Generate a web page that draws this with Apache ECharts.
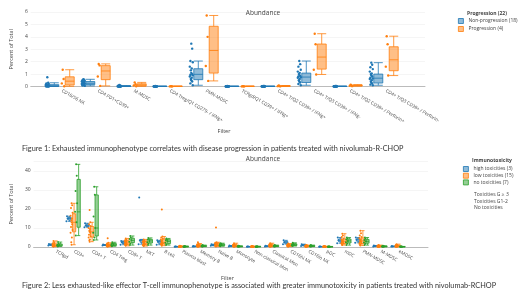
<!DOCTYPE html>
<html>
<head>
<meta charset="utf-8">
<script src="https://cdn.jsdelivr.net/npm/echarts@6/dist/echarts.min.js"></script>
<style>
  html, body { margin: 0; padding: 0; background: #fff; }
  #chart { width: 520px; height: 292px; }
</style>
</head>
<body>
<div id="chart"></div>
<script>
// figure 1: progression
const cats1 = ['CD16/56 NK', 'CD4 PD1+CD39+', 'M-MDSC', 'CD4 Treg/Q1 CD279- / IFNg+', 'PMN-MDSC',
    'TCRgd/Q1 CD39+ / IFNg+', 'CD4+ T/Q2 CD39+ / IFNg+', 'CD4+ T/Q3 CD39+ / IFNg-',
    'CD4+ T/Q2 CD39+ / Perforin+', 'CD4+ T/Q3 CD39+ / Perforin-'];
// [min, Q1, median, Q3, max]
const nonProgBox = [
    [0, 0.02, 0.06, 0.15, 0.3], [0.05, 0.15, 0.26, 0.4, 0.58], [0, 0.01, 0.02, 0.04, 0.08],
    [0, 0.005, 0.01, 0.02, 0.04], [0.1, 0.55, 0.98, 1.43, 2.05], [0, 0.005, 0.01, 0.02, 0.04],
    [0, 0.005, 0.01, 0.02, 0.04], [0.1, 0.32, 0.76, 1.08, 2.05], [0, 0.005, 0.01, 0.02, 0.04],
    [0.1, 0.28, 0.67, 1.0, 1.92]
];
const progBox = [
    [0.02, 0.12, 0.43, 0.78, 1.35], [0.05, 0.55, 1.25, 1.68, 1.82], [0.02, 0.05, 0.13, 0.22, 0.33],
    [0.01, 0.01, 0.015, 0.025, 0.03], [0.45, 1.08, 2.9, 4.85, 5.72], [0.01, 0.01, 0.015, 0.025, 0.03],
    [0.01, 0.02, 0.04, 0.06, 0.08], [0.97, 1.4, 2.37, 3.42, 4.25], [0.03, 0.05, 0.08, 0.12, 0.15],
    [0.88, 1.27, 2.15, 3.2, 4.05]
];
const nonProgPts = [
    [0.75, 0.3, 0.25, 0.2, 0.15, 0.12, 0.1, 0.08, 0.07, 0.06, 0.05, 0.04, 0.03, 0.02, 0.02, 0.01, 0.01, 0],
    [0.58, 0.55, 0.5, 0.45, 0.4, 0.38, 0.35, 0.3, 0.28, 0.25, 0.22, 0.2, 0.18, 0.15, 0.12, 0.1, 0.08, 0.05],
    [0.12, 0.08, 0.06, 0.05, 0.04, 0.04, 0.03, 0.03, 0.02, 0.02, 0.02, 0.01, 0.01, 0.01, 0.01, 0, 0, 0],
    [0.04, 0.03, 0.03, 0.02, 0.02, 0.02, 0.01, 0.01, 0.01, 0.01, 0.01, 0.01, 0, 0, 0, 0, 0, 0],
    [3.45, 3.05, 2.05, 1.95, 1.6, 1.45, 1.3, 1.1, 1.0, 0.95, 0.9, 0.8, 0.7, 0.6, 0.5, 0.4, 0.25, 0.1],
    [0.04, 0.03, 0.02, 0.02, 0.02, 0.01, 0.01, 0.01, 0.01, 0.01, 0.01, 0, 0, 0, 0, 0, 0, 0],
    [0.05, 0.04, 0.03, 0.02, 0.02, 0.02, 0.01, 0.01, 0.01, 0.01, 0.01, 0.01, 0, 0, 0, 0, 0, 0],
    [2.05, 1.8, 1.6, 1.35, 1.2, 1.1, 1.0, 0.95, 0.85, 0.8, 0.75, 0.7, 0.6, 0.5, 0.4, 0.32, 0.2, 0.1],
    [0.05, 0.04, 0.03, 0.03, 0.02, 0.02, 0.02, 0.01, 0.01, 0.01, 0.01, 0.01, 0, 0, 0, 0, 0, 0],
    [1.92, 1.75, 1.55, 1.4, 1.2, 1.05, 1.0, 0.9, 0.8, 0.7, 0.65, 0.6, 0.5, 0.4, 0.3, 0.25, 0.15, 0.1]
];
const progPts = [
    [1.35, 0.6, 0.25, 0.02], [1.82, 1.7, 0.8, 0.05], [0.33, 0.18, 0.08, 0.02], [0.03, 0.02, 0.01, 0.01],
    [5.72, 4.0, 1.65, 0.45], [0.03, 0.02, 0.01, 0.01], [0.08, 0.05, 0.03, 0.01], [4.25, 3.4, 1.35, 0.97],
    [0.15, 0.1, 0.06, 0.03], [4.05, 3.4, 1.6, 0.88]
];
const yTicks1 = {min: 0, max: 6, interval: 1};

// figure 2: immunotoxicity
const cats2 = ['TCRgd', 'CD3+', 'CD4+ T', 'CD4 Treg', 'CD8+ T', 'NKT', 'B cell', 'Plasma blast',
    'Memory B', 'Naive B', 'Monocyte', 'Non-classical Mon', 'Classical Mon', 'CD16hi NK', 'CD16lo NK',
    'pDC', 'mDC', 'PMN-MDSC', 'M-MDSC', 'eMDSC'];
const highBox = [
    [0.8, 1.0, 1.2, 1.4, 1.6], [13.5, 14.2, 15.0, 15.6, 16.2], [10.4, 10.8, 11.3, 12.0, 12.5],
    [0.8, 0.9, 1.0, 1.15, 1.3], [1.2, 1.85, 2.5, 2.85, 3.2], [1.5, 2.5, 3.5, 3.8, 4.0],
    [1.2, 2.0, 2.8, 3.15, 3.5], [0.1, 0.15, 0.2, 0.25, 0.3], [0.2, 0.25, 0.3, 0.4, 0.5],
    [0.6, 0.8, 1.0, 1.25, 1.5], [0.3, 0.4, 0.5, 0.65, 0.8], [0.1, 0.15, 0.2, 0.25, 0.3],
    [0.3, 0.35, 0.4, 0.5, 0.6], [1.5, 2.0, 2.5, 3.0, 3.5], [0.5, 0.75, 1.0, 1.25, 1.5],
    [0.1, 0.15, 0.2, 0.25, 0.3], [2.0, 2.75, 3.5, 4.25, 5.0], [2.2, 3.0, 3.8, 4.4, 5.0],
    [0.3, 0.4, 0.5, 0.65, 0.8], [0.2, 0.25, 0.3, 0.4, 0.5]
];
const lowBox = [
    [0.2, 0.5, 0.9, 1.5, 3.2], [1.2, 8, 13, 17.5, 23], [2.8, 5.2, 8, 10.8, 13], [0.2, 0.5, 0.9, 1.4, 2.2],
    [0.6, 1.4, 2.2, 3.2, 4.5], [0.5, 1.2, 2.0, 3.0, 4.0], [0.7, 1.6, 2.5, 4.2, 5.5],
    [0.05, 0.12, 0.2, 0.32, 0.6], [0.1, 0.4, 0.7, 1.1, 1.8], [0.2, 0.75, 1.2, 1.9, 2.5],
    [0.1, 0.35, 0.7, 1.05, 2.0], [0.03, 0.1, 0.2, 0.3, 0.5], [0.1, 0.42, 0.7, 1.1, 2.0],
    [0.2, 0.5, 0.8, 1.15, 1.8], [0.1, 0.3, 0.45, 0.65, 1.0], [0.02, 0.08, 0.15, 0.25, 0.4],
    [1.0, 1.9, 3.0, 4.2, 7.0], [0.8, 1.8, 3.2, 4.8, 8.6], [0.05, 0.2, 0.35, 0.6, 1.0],
    [0.1, 0.25, 0.45, 0.75, 1.5]
];
const noBox = [
    [0.3, 0.6, 1.0, 1.6, 2.6], [6, 10.4, 18.5, 35.6, 43.5], [3.7, 5.8, 10, 27.4, 31.7],
    [0.4, 0.75, 1.2, 1.8, 2.5], [1.0, 2.3, 3.5, 4.6, 5.8], [1.0, 2.1, 3.2, 4.0, 4.8],
    [1.0, 1.8, 3.0, 3.8, 4.5], [0.05, 0.12, 0.2, 0.35, 0.5], [0.2, 0.35, 0.5, 0.7, 1.0],
    [0.4, 0.7, 1.1, 1.55, 2.0], [0.1, 0.2, 0.3, 0.45, 0.6], [0.05, 0.12, 0.2, 0.28, 0.4],
    [0.2, 0.35, 0.5, 0.7, 1.0], [0.5, 0.8, 1.2, 1.65, 2.2], [0.2, 0.35, 0.5, 0.7, 1.0],
    [0.05, 0.1, 0.15, 0.22, 0.3], [1.0, 2.1, 3.2, 4.2, 5.0], [1.0, 2.0, 3.0, 4.0, 5.0],
    [0.1, 0.17, 0.3, 0.45, 0.6], [0.05, 0.1, 0.15, 0.22, 0.3]
];
const highPts = [
    [1.6, 1.2, 0.8], [16.2, 15.0, 13.5], [12.5, 11.3, 10.4], [1.3, 1.0, 0.8], [3.2, 2.5, 1.2],
    [26, 3.5, 1.5], [3.5, 2.8, 1.2], [0.3, 0.2, 0.1], [0.5, 0.3, 0.2], [1.5, 1.0, 0.6],
    [0.8, 0.5, 0.3], [0.3, 0.2, 0.1], [0.6, 0.4, 0.3], [3.5, 2.5, 1.5], [1.5, 1.0, 0.5],
    [0.3, 0.2, 0.1], [5.0, 3.5, 2.0], [5.0, 3.8, 2.2], [0.8, 0.5, 0.3], [0.5, 0.3, 0.2]
];
const lowPts = [
    [3.2, 2.5, 2.0, 1.8, 1.5, 1.3, 1.1, 1.0, 0.9, 0.8, 0.6, 0.5, 0.4, 0.3, 0.2],
    [23, 22, 20.5, 18, 16.5, 15, 14, 13, 12, 10.5, 9, 7.5, 5, 2.5, 1.2],
    [19.5, 13, 12, 11, 10, 9.5, 8.5, 8, 7.5, 6.5, 5.5, 5, 4, 3.5, 2.8],
    [4.6, 2.2, 1.8, 1.5, 1.3, 1.1, 1.0, 0.9, 0.8, 0.7, 0.6, 0.5, 0.4, 0.3, 0.2],
    [4.5, 4.0, 3.6, 3.3, 3.0, 2.8, 2.5, 2.2, 2.0, 1.8, 1.5, 1.3, 1.1, 0.9, 0.6],
    [4.0, 3.6, 3.2, 3.0, 2.8, 2.5, 2.2, 2.0, 1.8, 1.5, 1.3, 1.1, 0.9, 0.7, 0.5],
    [19.8, 5.5, 5.0, 4.5, 4.0, 3.5, 3.0, 2.5, 2.2, 2.0, 1.8, 1.5, 1.2, 1.0, 0.7],
    [0.6, 0.5, 0.4, 0.35, 0.3, 0.3, 0.25, 0.2, 0.2, 0.15, 0.15, 0.1, 0.1, 0.05, 0.05],
    [2.5, 1.8, 1.5, 1.2, 1.0, 0.9, 0.8, 0.7, 0.6, 0.5, 0.4, 0.35, 0.3, 0.2, 0.1],
    [10.3, 2.5, 2.2, 2.0, 1.8, 1.6, 1.4, 1.2, 1.0, 0.9, 0.8, 0.7, 0.5, 0.4, 0.2],
    [2.0, 1.6, 1.3, 1.1, 1.0, 0.9, 0.8, 0.7, 0.6, 0.5, 0.4, 0.35, 0.3, 0.2, 0.1],
    [0.5, 0.4, 0.35, 0.3, 0.3, 0.25, 0.2, 0.2, 0.15, 0.15, 0.1, 0.1, 0.08, 0.05, 0.03],
    [2.0, 1.7, 1.4, 1.2, 1.0, 0.9, 0.8, 0.7, 0.6, 0.5, 0.45, 0.4, 0.3, 0.2, 0.1],
    [1.8, 1.5, 1.3, 1.2, 1.1, 1.0, 0.9, 0.8, 0.7, 0.6, 0.6, 0.5, 0.4, 0.3, 0.2],
    [1.0, 0.9, 0.8, 0.7, 0.6, 0.55, 0.5, 0.45, 0.4, 0.35, 0.3, 0.25, 0.2, 0.15, 0.1],
    [0.4, 0.35, 0.3, 0.25, 0.25, 0.2, 0.2, 0.15, 0.15, 0.1, 0.1, 0.08, 0.05, 0.03, 0.02],
    [7.0, 6.0, 5.2, 4.5, 4.0, 3.5, 3.2, 3.0, 2.6, 2.2, 2.0, 1.8, 1.5, 1.2, 1.0],
    [8.6, 7.2, 6.0, 5.2, 4.6, 4.0, 3.6, 3.2, 2.8, 2.4, 2.0, 1.7, 1.4, 1.1, 0.8],
    [1.0, 0.8, 0.7, 0.6, 0.5, 0.45, 0.4, 0.35, 0.3, 0.25, 0.2, 0.2, 0.15, 0.1, 0.05],
    [1.5, 1.2, 1.0, 0.8, 0.7, 0.6, 0.5, 0.45, 0.4, 0.35, 0.3, 0.25, 0.2, 0.15, 0.1]
];
const noPts = [
    [2.6, 1.8, 1.3, 1.0, 0.8, 0.5, 0.3], [43.5, 37.5, 29.5, 23, 18.5, 13, 6], [31.7, 27.5, 16, 10, 7.5, 5, 3.7],
    [2.5, 2.0, 1.6, 1.2, 0.9, 0.6, 0.4], [5.8, 5.0, 4.2, 3.5, 2.8, 1.8, 1.0], [4.8, 4.2, 3.8, 3.2, 2.5, 1.8, 1.0],
    [4.5, 4.0, 3.5, 3.0, 2.2, 1.5, 1.0], [0.5, 0.4, 0.3, 0.2, 0.15, 0.1, 0.05], [1.0, 0.8, 0.6, 0.5, 0.4, 0.3, 0.2],
    [2.0, 1.7, 1.4, 1.1, 0.8, 0.6, 0.4], [0.6, 0.5, 0.4, 0.3, 0.25, 0.2, 0.1], [0.4, 0.3, 0.25, 0.2, 0.15, 0.1, 0.05],
    [1.0, 0.8, 0.6, 0.5, 0.4, 0.3, 0.2], [2.2, 1.8, 1.5, 1.2, 0.9, 0.7, 0.5], [1.0, 0.8, 0.6, 0.5, 0.4, 0.3, 0.2],
    [0.3, 0.25, 0.2, 0.15, 0.1, 0.08, 0.05], [5.0, 4.5, 4.0, 3.2, 2.5, 1.8, 1.0], [5.0, 4.3, 3.7, 3.0, 2.4, 1.7, 1.0],
    [0.6, 0.5, 0.4, 0.3, 0.2, 0.15, 0.1], [0.3, 0.25, 0.2, 0.15, 0.1, 0.08, 0.05]
];
const yTicks2 = {min: 0, max: 45, interval: 10};

const names1 = ['Non-progression (18)', 'Progression (4)'];
const names2 = ['high toxicities (3)', 'low toxicities (15)', 'no toxicities (7)'];
const colors = ['#1f77b4', '#ff7f0e', '#2ca02c'];
const fills = ['rgba(31,119,180,0.5)', 'rgba(255,127,14,0.5)', 'rgba(44,160,44,0.5)'];

const FONT = 'Open Sans';
const TXT = '#444';

// plot areas (outer = gridlines, inner = category band)
const g1 = {outL: 23, outW: 402, inL: 44, inW: 360, top: 12, h: 74.5};
const g2 = {outL: 23, outW: 405, inL: 47, inW: 361, top: 161.5, h: 85.5};

// same side-by-side offsets that echarts uses for boxplot groups
const boxOffsets = (band, n) => {
    let avail = band * 0.8 - 2;
    let gap = avail / n * 0.3;
    let w = (avail - gap * (n - 1)) / n;
    let out = [];
    let b = w / 2 - avail / 2;
    for (let k = 0; k < n; k++) { out.push(b); b += gap + w; }
    return out;
};
const jit = [0, 0.6, -0.6, 1, -1, 0.3, -0.3];

const boxSeries = (name, data, k, xi, yi, bw) => ({
    type: 'boxplot', name, data, xAxisIndex: xi, yAxisIndex: yi,
    boxWidth: [bw, bw],
    itemStyle: {color: fills[k], borderColor: colors[k], borderWidth: 0.8},
    emphasis: {disabled: true}
});

const ptsSeries = (name, pts, k, xi, yi, band, offPx, amp, size) => ({
    type: 'scatter', name, xAxisIndex: xi, yAxisIndex: yi, symbolSize: size,
    itemStyle: {color: colors[k], opacity: 1},
    emphasis: {disabled: true},
    data: pts.flatMap((arr, i) => arr.map((v, j) => [i + (offPx + jit[j % jit.length] * amp) / band, v]))
});

const band1 = g1.inW / cats1.length;
const band2 = g2.inW / cats2.length;
const off1 = boxOffsets(band1, 2);
const off2 = boxOffsets(band2, 3);

const yOuter = (g, t, idx) => ({
    gridIndex: idx, type: 'value', min: t.min, max: t.max, interval: t.interval,
    name: 'Percent of Total', nameLocation: 'middle', nameGap: 14,
    nameTextStyle: {fontFamily: FONT, fontSize: 5.5, color: TXT},
    axisLine: {show: false}, axisTick: {show: false},
    axisLabel: {fontFamily: FONT, fontSize: 5, color: TXT, margin: 3, showMaxLabel: t.max % t.interval === 0},
    splitLine: {lineStyle: {color: '#eee', width: 0.6}}
});
const yInner = (t, idx) => ({gridIndex: idx, type: 'value', min: t.min, max: t.max, show: false});
const xOuter = idx => ({
    gridIndex: idx, type: 'value', min: 0, max: 1,
    axisLine: {show: true, onZero: false, lineStyle: {color: '#bbb', width: 1}},
    axisTick: {show: false}, axisLabel: {show: false}, splitLine: {show: false}
});
const xCat = (cats, idx, gap) => ({
    gridIndex: idx, type: 'category', data: cats,
    name: 'Filter', nameLocation: 'middle', nameGap: gap,
    nameTextStyle: {fontFamily: FONT, fontSize: 5.5, color: TXT},
    axisLine: {show: false}, axisTick: {show: false}, splitLine: {show: false},
    axisLabel: {rotate: -30, interval: 0, fontFamily: FONT, fontSize: 4.6, color: TXT, margin: 4}
});
const xVal = (n, idx) => ({gridIndex: idx, type: 'value', min: -0.5, max: n - 0.5, show: false});

const legendText = {fontFamily: FONT, fontSize: 5, color: TXT, lineHeight: 6};
const legendItems = names => names.map((name, k) => ({
    name, itemStyle: {color: fills[k], borderColor: colors[k], borderWidth: 0.8}
}));

const chart = echarts.init(document.getElementById('chart'), null, {renderer: 'canvas'});
chart.setOption({
    animation: false,
    textStyle: {fontFamily: FONT},
    title: [
        {text: 'Abundance', left: 258, top: 4.5, textAlign: 'center',
            textStyle: {fontFamily: FONT, fontSize: 6.5, fontWeight: 'normal', color: TXT}},
        {text: 'Abundance', left: 258, top: 151, textAlign: 'center',
            textStyle: {fontFamily: FONT, fontSize: 6.5, fontWeight: 'normal', color: TXT}},
        {text: 'Progression (22)', left: 462, top: 6,
            textStyle: {fontFamily: FONT, fontSize: 5, fontWeight: 'bold', color: TXT}},
        {text: 'Immunotoxicity', left: 467, top: 153,
            textStyle: {fontFamily: FONT, fontSize: 5, fontWeight: 'bold', color: TXT}},
        {text: 'Toxicities G \u2265 3\nToxicities G1-2\nNo toxicities', left: 469, top: 186,
            textStyle: {fontFamily: FONT, fontSize: 5, fontWeight: 'normal', color: TXT, lineHeight: 6.8}},
        {text: 'Figure 1: Exhausted immunophenotype correlates with disease progression in patients treated with nivolumab-R-CHOP',
            left: 17, top: 140.5, textStyle: {fontFamily: 'Lato', fontSize: 7.3, fontWeight: 'normal', color: '#333'}},
        {text: 'Figure 2: Less exhausted-like effector T-cell immunophenotype is associated with greater immunotoxicity in patients treated with nivolumab-RCHOP',
            left: 17, top: 277, textStyle: {fontFamily: 'Lato', fontSize: 7.3, fontWeight: 'normal', color: '#333'}}
    ],
    legend: [
        {data: legendItems(names1), orient: 'vertical', left: 453, top: 13, icon: 'rect', itemWidth: 5, itemHeight: 5,
            itemGap: 2, textStyle: legendText, selectedMode: false},
        {data: legendItems(names2), orient: 'vertical', left: 458, top: 161, icon: 'rect', itemWidth: 5, itemHeight: 5,
            itemGap: 0.7, textStyle: legendText, selectedMode: false}
    ],
    grid: [
        {left: g1.outL, top: g1.top, width: g1.outW, height: g1.h},
        {left: g1.inL, top: g1.top, width: g1.inW, height: g1.h},
        {left: g2.outL, top: g2.top, width: g2.outW, height: g2.h},
        {left: g2.inL, top: g2.top, width: g2.inW, height: g2.h}
    ],
    xAxis: [
        xOuter(0), xCat(cats1, 1, 42), xVal(cats1.length, 1),
        xOuter(2), xCat(cats2, 3, 25), xVal(cats2.length, 3)
    ],
    yAxis: [
        yOuter(g1, yTicks1, 0), yInner(yTicks1, 1),
        yOuter(g2, yTicks2, 2), yInner(yTicks2, 3)
    ],
    series: [
        boxSeries(names1[0], nonProgBox, 0, 1, 1, 9),
        boxSeries(names1[1], progBox, 1, 1, 1, 9),
        ptsSeries(names1[0], nonProgPts, 0, 2, 1, band1, off1[0] - 7, 1.5, 2.4),
        ptsSeries(names1[1], progPts, 1, 2, 1, band1, off1[1] - 7, 1.5, 2.4),
        boxSeries(names2[0], highBox, 0, 4, 3, 3.3),
        boxSeries(names2[1], lowBox, 1, 4, 3, 3.3),
        boxSeries(names2[2], noBox, 2, 4, 3, 3.3),
        ptsSeries(names2[0], highPts, 0, 5, 3, band2, off2[0] - 2.5, 1, 2),
        ptsSeries(names2[1], lowPts, 1, 5, 3, band2, off2[1] - 2.5, 1, 2),
        ptsSeries(names2[2], noPts, 2, 5, 3, band2, off2[2] - 2.5, 1, 2)
    ]
});
</script>
</body>
</html>
